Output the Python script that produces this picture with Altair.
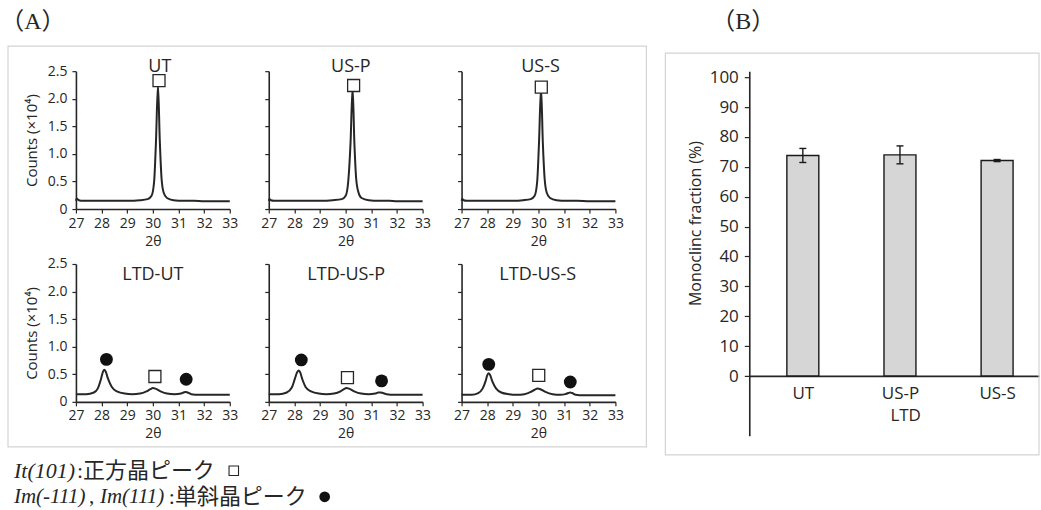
import json
import altair as alt
import pandas as pd

# ---------------- data ----------------
panel_names = ["UT", "US-P", "US-S", "LTD-UT", "LTD-US-P", "LTD-US-S"]

tt_ut = [27.0, 27.03, 27.08, 27.2, 27.6, 28.0, 28.5, 29.0, 29.5, 29.8, 29.95, 30.05, 30.12,
         30.2, 30.27, 30.34, 30.42, 30.55, 30.8, 31.2, 31.6, 32.0, 32.5, 33.0]
cnt_ut = [0.15, 0.19, 0.17, 0.15, 0.15, 0.15, 0.15, 0.15, 0.16, 0.18, 0.24, 0.5, 1.2,
          2.25, 1.25, 0.55, 0.3, 0.2, 0.16, 0.15, 0.15, 0.14, 0.14, 0.14]

tt_usp = [27.0, 27.03, 27.08, 27.2, 27.6, 28.0, 28.5, 29.0, 29.5, 29.85, 30.0, 30.1, 30.19,
          30.27, 30.34, 30.41, 30.5, 30.62, 30.9, 31.3, 31.7, 32.0, 32.5, 33.0]
cnt_usp = [0.15, 0.18, 0.16, 0.15, 0.15, 0.15, 0.15, 0.15, 0.16, 0.18, 0.24, 0.5, 1.2,
           2.2, 1.2, 0.55, 0.3, 0.2, 0.16, 0.15, 0.15, 0.14, 0.14, 0.14]

tt_uss = [27.0, 27.03, 27.08, 27.2, 27.6, 28.0, 28.5, 29.0, 29.4, 29.7, 29.85, 29.95, 30.02,
          30.1, 30.17, 30.24, 30.32, 30.45, 30.7, 31.1, 31.5, 32.0, 32.5, 33.0]
cnt_uss = [0.15, 0.18, 0.16, 0.15, 0.15, 0.15, 0.15, 0.15, 0.16, 0.18, 0.24, 0.5, 1.2,
           2.2, 1.2, 0.55, 0.3, 0.2, 0.16, 0.15, 0.15, 0.14, 0.14, 0.14]

tt_ltd_ut = [27.0, 27.4, 27.7, 27.85, 27.97, 28.05, 28.1, 28.16, 28.25, 28.4, 28.6, 28.9, 29.2,
             29.5, 29.75, 29.9, 30.0, 30.1, 30.3, 30.55, 30.85, 31.1, 31.2, 31.27, 31.35, 31.5,
             31.8, 32.3, 33.0]
cnt_ltd_ut = [0.14, 0.14, 0.17, 0.24, 0.4, 0.54, 0.58, 0.55, 0.42, 0.27, 0.19, 0.15, 0.14,
              0.15, 0.19, 0.23, 0.25, 0.24, 0.19, 0.15, 0.14, 0.15, 0.17, 0.18, 0.17, 0.14,
              0.13, 0.13, 0.13]

tt_ltd_usp = [27.0, 27.4, 27.7, 27.9, 28.02, 28.1, 28.16, 28.22, 28.31, 28.45, 28.65, 28.95,
              29.25, 29.55, 29.8, 29.93, 30.03, 30.13, 30.33, 30.6, 30.9, 31.15, 31.27, 31.36,
              31.45, 31.6, 31.9, 32.4, 33.0]
cnt_ltd_usp = [0.14, 0.14, 0.17, 0.26, 0.42, 0.53, 0.57, 0.54, 0.41, 0.26, 0.19, 0.15,
               0.14, 0.15, 0.19, 0.23, 0.25, 0.24, 0.19, 0.15, 0.14, 0.15, 0.17, 0.17,
               0.16, 0.14, 0.13, 0.13, 0.13]

tt_ltd_uss = [27.0, 27.4, 27.65, 27.82, 27.94, 28.0, 28.05, 28.11, 28.2, 28.35, 28.55, 28.85,
              29.15, 29.45, 29.7, 29.85, 29.97, 30.07, 30.27, 30.55, 30.85, 31.05, 31.16,
              31.23, 31.31, 31.45, 31.75, 32.3, 33.0]
cnt_ltd_uss = [0.13, 0.13, 0.16, 0.24, 0.38, 0.48, 0.52, 0.49, 0.37, 0.24, 0.17, 0.14,
               0.13, 0.14, 0.18, 0.22, 0.24, 0.23, 0.18, 0.14, 0.13, 0.14, 0.16,
               0.17, 0.16, 0.13, 0.12, 0.12, 0.12]

# tetragonal peak markers (open squares)
sq_panel = ["UT", "US-P", "US-S", "LTD-UT", "LTD-US-P", "LTD-US-S"]
sq_tt = [30.24, 30.31, 30.11, 30.08, 30.07, 30.01]
sq_cnt = [2.33, 2.24, 2.21, 0.46, 0.44, 0.48]

# monoclinic peak markers (filled circles)
ci_panel = ["LTD-UT", "LTD-UT", "LTD-US-P", "LTD-US-P", "LTD-US-S", "LTD-US-S"]
ci_tt = [28.19, 31.30, 28.27, 31.40, 28.06, 31.24]
ci_cnt = [0.77, 0.41, 0.76, 0.38, 0.68, 0.36]

x_ticks_a = [27, 28, 29, 30, 31, 32, 33]
y_ticks_a = [0, 0.5, 1.0, 1.5, 2.0, 2.5]

bar_cats = ["UT", "US-P", "US-S"]
mono_frac = [73.8, 74.0, 72.1]
mono_err = [2.35, 3.0, 0.35]
y_ticks_b = [0, 10, 20, 30, 40, 50, 60, 70, 80, 90, 100]

curves = {
    "UT": (tt_ut, cnt_ut),
    "US-P": (tt_usp, cnt_usp),
    "US-S": (tt_uss, cnt_uss),
    "LTD-UT": (tt_ltd_ut, cnt_ltd_ut),
    "LTD-US-P": (tt_ltd_usp, cnt_ltd_usp),
    "LTD-US-S": (tt_ltd_uss, cnt_ltd_uss),
}

# ---------------- styling / layout ----------------
FONT = "Open Sans"
SERIF = "Liberation Serif"
SERIF_JP = "Liberation Serif, Noto Sans CJK JP"
INK = "#262626"
FRAME = "#d4d4d4"

WA, HA = 154, 138          # each XRD plot area
ORIGIN_A = (75, 71)        # top-left of the UT plot area on the page
ORIGIN_B = (749, 71)       # top-left of the bar-chart area on the page
title_at = {
    "UT": (30.27, 2.58), "US-P": (30.2, 2.58), "US-S": (30.08, 2.58),
    "LTD-UT": (30.0, 2.3), "LTD-US-P": (30.02, 2.3), "LTD-US-S": (29.97, 2.3),
}


def one_row():
    return pd.DataFrame({"k": [0]})


def note(text, ax, ay, origin, size, font, italic=False, align="left"):
    return alt.Chart(pd.DataFrame({"t": [text]})).mark_text(
        align=align, baseline="middle", font=font, fontSize=size,
        fontStyle="italic" if italic else "normal", color=INK,
    ).encode(text="t:N", x=alt.value(ax - origin[0]), y=alt.value(ay - origin[1]))


def box(x0, y0, x1, y1, origin, **kw):
    return alt.Chart(one_row()).mark_rect(**kw).encode(
        x=alt.value(x0 - origin[0]), x2=alt.value(x1 - origin[0]),
        y=alt.value(y0 - origin[1]), y2=alt.value(y1 - origin[1]))


def xrd_panel(i):
    name = panel_names[i]
    col = i % 3
    first = col == 0
    tt, cnt = curves[name]
    xs = alt.Scale(domain=[27, 33], nice=False, zero=False)
    ys = alt.Scale(domain=[0, 2.5], nice=False)
    xax = alt.Axis(values=x_ticks_a, format="d", title="2θ", grid=False,
                   labelFlush=False, labelOverlap=False, tickSize=4,
                   labelPadding=3, titlePadding=4, labelFontSize=14, titleFontSize=14)
    yax = alt.Axis(values=y_ticks_a,
                   labelExpr="datum.value == 0 ? '0' : format(datum.value, '.1f')",
                   labels=first, title="Counts (×10⁴)" if first else "",
                   grid=False, tickSize=4, labelPadding=5, titlePadding=8,
                   labelFontSize=14, titleFontSize=15, labelOverlap=False)
    # identical axis definitions on every layer so they merge cleanly
    xe = alt.X("tt:Q", scale=xs, axis=xax)
    ye = alt.Y("cnt:Q", scale=ys, axis=yax)

    curve = alt.Chart(pd.DataFrame({"tt": tt, "cnt": cnt})).mark_line(
        color=INK, strokeWidth=2, interpolate="monotone").encode(x=xe, y=ye)
    layers = [curve]

    sq = pd.DataFrame({"panel": sq_panel, "tt": sq_tt, "cnt": sq_cnt})
    sq = sq[sq["panel"] == name]
    layers.append(alt.Chart(sq).mark_point(
        shape="square", size=144, filled=True, fill="white", stroke=INK,
        strokeWidth=1.3, opacity=1).encode(x=xe, y=ye))

    ci = pd.DataFrame({"panel": ci_panel, "tt": ci_tt, "cnt": ci_cnt})
    ci = ci[ci["panel"] == name]
    if len(ci):
        layers.append(alt.Chart(ci).mark_point(
            shape="circle", size=165, filled=True, color="#111111", opacity=1
        ).encode(x=xe, y=ye))

    tx, ty = title_at[name]
    layers.append(alt.Chart(pd.DataFrame({"t": [name], "tt": [tx], "cnt": [ty]})).mark_text(
        font=FONT, fontSize=18, color=INK, align="center", baseline="middle"
    ).encode(text="t:N", x=xe, y=ye))

    if i == 0:
        o = ORIGIN_A
        # page-size anchor (transparent), frame of panel A, label and caption
        layers.append(box(0, 0, 1041, 510, o, fill="white", opacity=0))
        layers.append(box(7, 46, 646, 447, o, fillOpacity=0, stroke=FRAME, strokeWidth=1.2))
        layers.append(note("（A）", 32, 22, o, 24, SERIF_JP, align="center"))
        layers.append(note("It(101)", 13, 471, o, 22, SERIF, italic=True))
        layers.append(note(":正方晶ピーク", 76, 471, o, 22, SERIF_JP))
        layers.append(note("Im(-111)", 13, 497, o, 21, SERIF, italic=True))
        layers.append(note(",", 88, 497, o, 21, SERIF))
        layers.append(note("Im(111)", 99, 497, o, 21, SERIF, italic=True))
        layers.append(note(":単斜晶ピーク", 168, 497, o, 22, SERIF_JP))
        layers.append(alt.Chart(one_row()).mark_point(
            shape="square", size=90, filled=False, stroke=INK, strokeWidth=1.1, opacity=1
        ).encode(x=alt.value(233 - o[0]), y=alt.value(471 - o[1])))
        layers.append(alt.Chart(one_row()).mark_point(
            shape="circle", size=115, filled=True, color="#111111", opacity=1
        ).encode(x=alt.value(324 - o[0]), y=alt.value(497 - o[1])))

    return alt.layer(*layers).properties(width=WA, height=HA)


def bar_panel():
    o = ORIGIN_B
    df = pd.DataFrame({
        "idx": list(range(len(bar_cats))),
        "cat": bar_cats,
        "frac": mono_frac,
        "lo": [v - e for v, e in zip(mono_frac, mono_err)],
        "hi": [v + e for v, e in zip(mono_frac, mono_err)],
    })
    xs = alt.Scale(domain=[-0.5, 2.38], nice=False, zero=False)
    ys = alt.Scale(domain=[-20, 102], range=[365, 0], nice=False, zero=False)
    xax = alt.Axis(values=list(range(len(bar_cats))),
                   labelExpr=json.dumps(bar_cats) + "[datum.value]",
                   ticks=False, tickSize=0, grid=False, title="LTD",
                   labelFontSize=17, titleFontSize=17, labelPadding=10,
                   titlePadding=6, offset=167, titleX=156,
                   labelFlush=False, labelOverlap=False)
    yax = alt.Axis(values=y_ticks_b, title="Monoclinc fraction (%)", grid=False,
                   labelFontSize=17, titleFontSize=16, tickSize=5, labelPadding=6,
                   titlePadding=6, titleY=152, labelOverlap=False)
    xe = alt.X("idx:Q", scale=xs, axis=xax)
    bars = alt.Chart(df).mark_bar(size=32, fill="#d6d6d6", stroke="#1a1a1a",
                                  strokeWidth=1.4).encode(
        x=xe, y=alt.Y("frac:Q", scale=ys, axis=yax), y2=alt.datum(0))
    err = alt.Chart(df).mark_rule(color="#1a1a1a", strokeWidth=1.4).encode(
        x=xe, y=alt.Y("lo:Q", scale=ys, axis=yax), y2="hi:Q")
    cap_lo = alt.Chart(df).mark_tick(orient="horizontal", size=7, thickness=1.4,
                                     color="#1a1a1a", opacity=1).encode(
        x=xe, y=alt.Y("lo:Q", scale=ys, axis=yax))
    cap_hi = alt.Chart(df).mark_tick(orient="horizontal", size=7, thickness=1.4,
                                     color="#1a1a1a", opacity=1).encode(
        x=xe, y=alt.Y("hi:Q", scale=ys, axis=yax))
    frame = box(665, 53, 1039, 455, o, fillOpacity=0, stroke=FRAME, strokeWidth=1.2)
    label = note("（B）", 743, 22, o, 24, SERIF_JP, align="center")
    return alt.layer(bars, err, cap_lo, cap_hi, frame, label).properties(width=290, height=HA)


spacer = alt.Chart(one_row()).mark_point(opacity=0).properties(width=56, height=HA)

panels = [xrd_panel(i) for i in range(6)]

chart = alt.concat(
    panels[0], panels[1], panels[2], spacer, bar_panel(),
    panels[3], panels[4], panels[5],
    columns=5, spacing={"row": 55, "column": 39}, bounds="flush", align="each",
).configure_view(strokeWidth=0).configure_axis(
    domainColor=INK, tickColor=INK, labelColor=INK, titleColor=INK,
    labelFont=FONT, titleFont=FONT, titleFontWeight="normal",
    domainWidth=1.6, tickWidth=1.2, labelOverlap=False, labelFlush=False,
    labelBound=False, labelFontSize=14, tickSize=4,
).configure_axisX(
    titleFontSize=14, labelPadding=3, titlePadding=4,
).configure_axisY(
    titleFontSize=15, labelPadding=5, titlePadding=8,
).properties(padding=0, background="white")

chart.save("out.html", embed_options={"renderer": "svg", "actions": False})
